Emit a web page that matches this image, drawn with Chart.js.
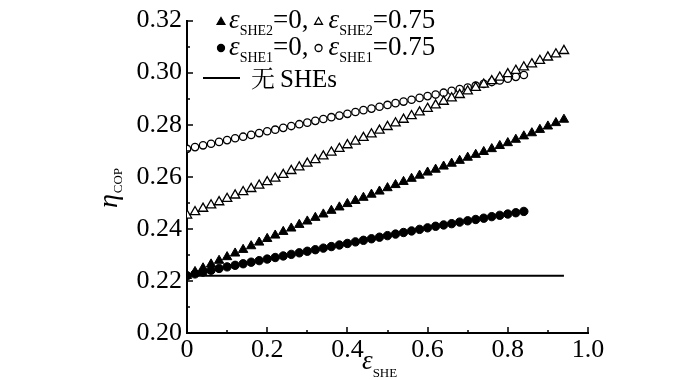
<!DOCTYPE html>
<html><head><meta charset="utf-8">
<script src="https://cdn.jsdelivr.net/npm/chart.js@4/dist/chart.umd.min.js"></script>
<style>html,body{margin:0;padding:0;background:#fff;}#wrap{width:700px;height:380px;}</style>
</head><body><div id="wrap"><canvas id="c" width="700" height="380"></canvas></div>
<script>
const xValues = [0,0.02,0.04,0.06,0.08,0.10,0.12,0.14,0.16,0.18,0.20,0.22,0.24,0.26,0.28,0.30,0.32,0.34,0.36,0.38,0.40,0.42,0.44,0.46,0.48,0.50,0.52,0.54,0.56,0.58,0.60,0.62,0.64,0.66,0.68,0.70,0.72,0.74,0.76,0.78,0.80,0.82,0.84,0.86,0.88,0.90,0.92,0.94];
const triFilled = [0.2220,0.2235,0.2249,0.2264,0.2278,0.2292,0.2306,0.2320,0.2334,0.2348,0.2362,
0.2375,0.2389,0.2402,0.2416,0.2429,0.2443,0.2456,0.2470,0.2483,0.2496,
0.2508,0.2520,0.2532,0.2544,0.2557,0.2569,0.2581,0.2593,0.2605,0.2617,
0.2628,0.2640,0.2651,0.2662,0.2674,0.2685,0.2696,0.2707,0.2719,0.2730,
0.2743,0.2756,0.2768,0.2781,0.2794,0.2807,0.2820];
const triOpen = [0.2452,0.2465,0.2478,0.2491,0.2503,0.2516,0.2529,0.2542,0.2554,0.2567,0.2580,
0.2594,0.2608,0.2623,0.2637,0.2651,0.2665,0.2679,0.2694,0.2708,0.2722,
0.2736,0.2750,0.2764,0.2778,0.2792,0.2806,0.2820,0.2834,0.2848,0.2862,
0.2875,0.2889,0.2902,0.2915,0.2929,0.2942,0.2955,0.2968,0.2982,0.2995,
0.3008,0.3021,0.3033,0.3046,0.3059,0.3071,0.3084];
const cirFilled = [0.2220,0.2227,0.2234,0.2241,0.2248,0.2254,0.2260,0.2266,0.2272,0.2278,0.2284,
0.2290,0.2296,0.2302,0.2308,0.2314,0.2320,0.2326,0.2332,0.2338,0.2344,
0.2350,0.2356,0.2362,0.2368,0.2374,0.2380,0.2386,0.2392,0.2398,0.2404,
0.2410,0.2415,0.2420,0.2426,0.2431,0.2436,0.2441,0.2447,0.2452,0.2457,
0.2462,0.2467];
const cirOpen = [0.2707,0.2714,0.2721,0.2727,0.2734,0.2741,0.2748,0.2754,0.2761,0.2768,0.2775,
0.2781,0.2788,0.2795,0.2802,0.2808,0.2815,0.2822,0.2829,0.2835,0.2842,
0.2849,0.2856,0.2862,0.2869,0.2876,0.2883,0.2889,0.2896,0.2903,0.2910,
0.2916,0.2923,0.2930,0.2937,0.2943,0.2950,0.2957,0.2964,0.2970,0.2977,
0.2984,0.2991];
const noSHEx = [0, 0.94];
const noSHEy = [0.222, 0.222];
const xTickValues = [0,0.2,0.4,0.6,0.8,1.0];
const xTickLabels = ['0','0.2','0.4','0.6','0.8','1.0'];
const xMinorTicks = [0.1,0.3,0.5,0.7,0.9];
const yTickValues = [0.20,0.22,0.24,0.26,0.28,0.30,0.32];
const yTickLabels = ['0.20','0.22','0.24','0.26','0.28','0.30','0.32'];
const yMinorTicks = [0.21,0.23,0.25,0.27,0.29,0.31];

const SERIF = '"Liberation Serif", "Times New Roman", serif';
const CJK = '"Liberation Serif", "Noto Serif CJK SC", "Noto Sans CJK SC", serif';

function pts(ys){ return ys.map((y,i)=>({x:xValues[i], y:y})); }

function marker(ctx, type, filled, x, y, r){
  ctx.beginPath();
  if(type==='tri'){
    ctx.moveTo(x, y - r);
    ctx.lineTo(x + r*0.866, y + r*0.5);
    ctx.lineTo(x - r*0.866, y + r*0.5);
    ctx.closePath();
  } else {
    ctx.arc(x, y, r, 0, Math.PI*2);
  }
  ctx.fillStyle = filled ? '#000' : '#fff';
  ctx.fill();
  ctx.lineWidth = 1.3; ctx.strokeStyle = '#000';
  ctx.stroke();
  ctx.fillStyle = '#000';
}

function seq(ctx, x, parts){
  parts.forEach(p=>{
    ctx.font = p.f;
    ctx.fillText(p.t, x, p.y);
    x += ctx.measureText(p.t).width + (p.gap||0);
  });
  return x;
}

const LF = '27px '+SERIF, LI = 'italic 27px '+SERIF, LS = '14px '+SERIF;

const decor = {
  id:'decor',
  afterDraw(chart){
    const ctx = chart.ctx, xs = chart.scales.x, ys = chart.scales.y, ca = chart.chartArea;
    ctx.save();
    ctx.strokeStyle = '#000'; ctx.lineWidth = 1.5;
    ctx.beginPath();
    xTickValues.forEach(v=>{const p=Math.round(xs.getPixelForValue(v)); ctx.moveTo(p,ca.bottom); ctx.lineTo(p,ca.bottom-6);});
    xMinorTicks.forEach(v=>{const p=Math.round(xs.getPixelForValue(v)); ctx.moveTo(p,ca.bottom); ctx.lineTo(p,ca.bottom-3);});
    yTickValues.forEach(v=>{const p=Math.round(ys.getPixelForValue(v)); ctx.moveTo(ca.left,p); ctx.lineTo(ca.left+6,p);});
    yMinorTicks.forEach(v=>{const p=Math.round(ys.getPixelForValue(v)); ctx.moveTo(ca.left,p); ctx.lineTo(ca.left+3,p);});
    ctx.stroke();

    ctx.fillStyle = '#000';
    ctx.textBaseline = 'alphabetic';
    ctx.textAlign = 'left';
    // x title
    seq(ctx, 362, [
      {t:'ε', f:'italic 27px '+SERIF, y:369},
      {t:'SHE', f:'13px '+SERIF, y:377}
    ]);
    // y title
    ctx.save();
    ctx.translate(117, 188);
    ctx.rotate(-Math.PI/2);
    ctx.font = 'italic 28px '+SERIF;
    const w1 = ctx.measureText('η').width;
    ctx.font = '13px '+SERIF;
    const w2 = ctx.measureText('COP').width;
    seq(ctx, -(w1+w2+1)/2, [
      {t:'η', f:'italic 28px '+SERIF, y:0, gap:1},
      {t:'COP', f:'13px '+SERIF, y:5}
    ]);
    ctx.restore();

    // legend
    marker(ctx,'tri',true,221,22,4.5);
    let x = seq(ctx, 229, [
      {t:'ε', f:LI, y:28},
      {t:'SHE2', f:LS, y:35},
      {t:'=0,', f:LF, y:28}
    ]);
    marker(ctx,'tri',false,x+10,22,4.5);
    seq(ctx, x+20, [
      {t:'ε', f:LI, y:28},
      {t:'SHE2', f:LS, y:35},
      {t:'=0.75', f:LF, y:28}
    ]);
    marker(ctx,'cir',true,221,48,3.5);
    x = seq(ctx, 229, [
      {t:'ε', f:LI, y:55},
      {t:'SHE1', f:LS, y:62},
      {t:'=0,', f:LF, y:55}
    ]);
    marker(ctx,'cir',false,x+10,48,3.5);
    seq(ctx, x+20, [
      {t:'ε', f:LI, y:55},
      {t:'SHE1', f:LS, y:62},
      {t:'=0.75', f:LF, y:55}
    ]);
    ctx.strokeStyle = '#000'; ctx.lineWidth = 2;
    ctx.beginPath(); ctx.moveTo(203,78); ctx.lineTo(240,78); ctx.stroke();
    ctx.fillStyle = '#000';
    seq(ctx, 251, [
      {t:'无', f:'24px '+CJK, y:87, gap:5},
      {t:'SHEs', f:'25px '+SERIF, y:87}
    ]);
    ctx.restore();
  }
};

new Chart(document.getElementById('c'), {
  type:'scatter',
  data:{
    datasets:[
      {label:'ε_SHE2=0.75', data:pts(triOpen), pointStyle:'triangle', pointRadius:5.4, pointBackgroundColor:'#fff', pointBorderColor:'#000', pointBorderWidth:1.3, showLine:false},
      {label:'ε_SHE1=0.75', data:pts(cirOpen), pointStyle:'circle', pointRadius:3.7, pointBackgroundColor:'#fff', pointBorderColor:'#000', pointBorderWidth:1.3, showLine:false},
      {label:'ε_SHE2=0', data:pts(triFilled), pointStyle:'triangle', pointRadius:5.4, pointBackgroundColor:'#000', pointBorderColor:'#000', pointBorderWidth:1, showLine:false},
      {label:'ε_SHE1=0', data:pts(cirFilled), pointStyle:'circle', pointRadius:4.2, pointBackgroundColor:'#000', pointBorderColor:'#000', pointBorderWidth:1, showLine:false},
      {label:'无 SHEs', data:noSHEx.map((v,i)=>({x:v,y:noSHEy[i]})), showLine:true, borderColor:'#000', borderWidth:2, pointRadius:0, order:5}
    ]
  },
  options:{
    responsive:false, devicePixelRatio:1, animation:false,
    layout:{padding:{left:0,right:112,top:12,bottom:0}},
    plugins:{legend:{display:false}, tooltip:{enabled:false}},
    scales:{
      x:{type:'linear', min:0, max:1,
        afterBuildTicks:s=>{s.ticks = xTickValues.map(v=>({value:v}));},
        afterFit:s=>{s.height = 47;},
        ticks:{callback:(v,i)=>xTickLabels[i], font:{family:SERIF, size:26}, color:'#000', padding:2, maxRotation:0, autoSkip:false},
        grid:{display:false, drawTicks:false},
        border:{display:true, color:'#000', width:2}
      },
      y:{type:'linear', min:0.2, max:0.32,
        afterBuildTicks:s=>{s.ticks = yTickValues.map(v=>({value:v}));},
        afterFit:s=>{s.width = 187;},
        ticks:{callback:(v,i)=>yTickLabels[i], font:{family:SERIF, size:26}, color:'#000', padding:5, autoSkip:false},
        grid:{display:false, drawTicks:false},
        border:{display:true, color:'#000', width:2}
      }
    }
  },
  plugins:[decor]
});
</script></body></html>
